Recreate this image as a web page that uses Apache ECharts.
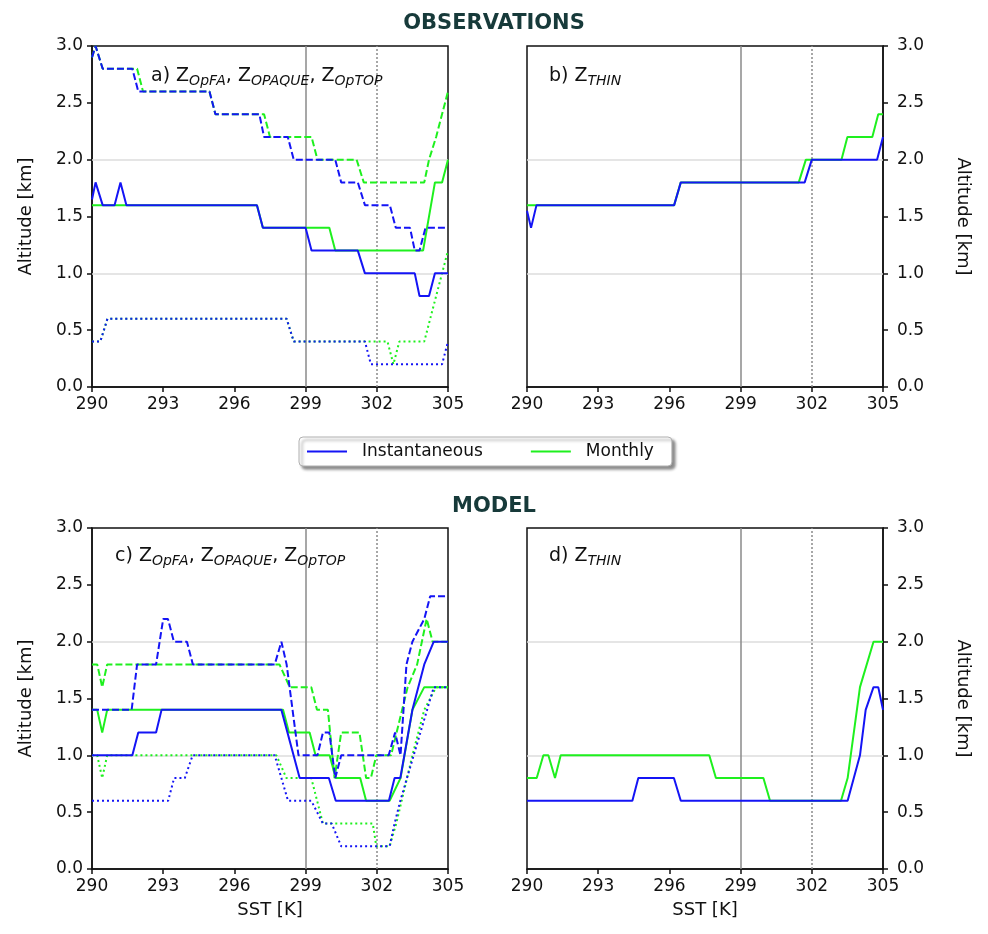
<!DOCTYPE html>
<html>
<head>
<meta charset="utf-8">
<script src="https://cdn.jsdelivr.net/npm/echarts@6/dist/echarts.min.js"></script>
<style>
  html, body { margin: 0; padding: 0; background: #fff; }
  #chart { width: 988px; height: 934px; }
</style>
</head>
<body>
<div id="chart"></div>
<script>
// eixo x (SST) e eixo y (altitude)
const xTicks = [290, 293, 296, 299, 302, 305];
const yTicks = [0, 0.5, 1, 1.5, 2, 2.5, 3];
const guideX = [299, 302];
const guideY = [1, 2];

// a) observações — Z_OpFA / Z_OPAQUE / Z_OpTOP  (pares [SST, km])
const aSolidInst = [[290,1.65],[290.15,1.8],[290.45,1.6],[290.95,1.6],[291.2,1.8],[291.45,1.6],[296.95,1.6],[297.2,1.4],[299.0,1.4],[299.25,1.2],[301.2,1.2],[301.5,1.0],[303.6,1.0],[303.8,0.8],[304.2,0.8],[304.45,1.0],[305,1.0]];
const aSolidMon = [[290,1.6],[296.95,1.6],[297.2,1.4],[300.0,1.4],[300.25,1.2],[303.95,1.2],[304.45,1.8],[304.75,1.8],[305,2.0]];
const aDashInst = [[290,2.9],[290.15,3.0],[290.45,2.8],[291.7,2.8],[291.95,2.6],[294.95,2.6],[295.2,2.4],[297.05,2.4],[297.25,2.2],[298.25,2.2],[298.5,2.0],[300.25,2.0],[300.5,1.8],[301.2,1.8],[301.5,1.6],[302.55,1.6],[302.8,1.4],[303.4,1.4],[303.6,1.2],[303.8,1.2],[304.05,1.4],[305,1.4]];
const aDashMon = [[290,2.9],[290.15,3.0],[290.45,2.8],[291.9,2.8],[292.15,2.6],[294.95,2.6],[295.2,2.4],[297.25,2.4],[297.5,2.2],[299.25,2.2],[299.5,2.0],[301.15,2.0],[301.45,1.8],[304.0,1.8],[304.2,2.0],[304.5,2.2],[305,2.6]];
const aDotInst = [[290,0.4],[290.35,0.4],[290.65,0.6],[298.2,0.6],[298.5,0.4],[301.5,0.4],[301.75,0.2],[304.75,0.2],[305,0.4]];
const aDotMon = [[290,0.4],[290.35,0.4],[290.65,0.6],[298.2,0.6],[298.5,0.4],[302.45,0.4],[302.7,0.2],[302.95,0.4],[304.0,0.4],[304.25,0.6],[304.5,0.8],[305,1.2]];

// b) observações — Z_THIN
const bInst = [[290,1.55],[290.17,1.4],[290.4,1.6],[296.2,1.6],[296.48,1.8],[301.7,1.8],[302.0,2.0],[304.75,2.0],[305,2.2]];
const bMon = [[290,1.6],[296.2,1.6],[296.48,1.8],[301.45,1.8],[301.75,2.0],[303.25,2.0],[303.5,2.2],[304.55,2.2],[304.8,2.4],[305,2.4]];

// c) modelo — Z_OpFA / Z_OPAQUE / Z_OpTOP
const cSolidInst = [[290,1.0],[291.7,1.0],[291.95,1.2],[292.7,1.2],[292.93,1.4],[297.98,1.4],[298.75,0.8],[299.98,0.8],[300.27,0.6],[302.51,0.6],[302.75,0.8],[302.99,0.8],[303.5,1.4],[304.0,1.8],[304.4,2.0],[305,2.0]];
const cSolidMon = [[290,1.4],[290.22,1.4],[290.43,1.2],[290.64,1.4],[298.05,1.4],[298.3,1.2],[299.17,1.2],[299.42,1.0],[300.01,1.0],[300.27,0.8],[301.3,0.8],[301.55,0.6],[302.54,0.6],[303.0,0.8],[303.5,1.4],[304.0,1.6],[305,1.6]];
const cDashInst = [[290,1.4],[291.67,1.4],[291.9,1.8],[292.7,1.8],[293.0,2.2],[293.2,2.2],[293.45,2.0],[294.0,2.0],[294.25,1.8],[297.7,1.8],[297.98,2.0],[298.2,1.8],[298.7,1.0],[299.5,1.0],[299.73,1.2],[300.0,1.2],[300.25,0.8],[300.5,1.0],[302.5,1.0],[302.77,1.2],[303.0,1.0],[303.25,1.8],[303.5,2.0],[304.0,2.2],[304.25,2.4],[305,2.4]];
const cDashMon = [[290,1.8],[290.22,1.8],[290.43,1.6],[290.64,1.8],[297.9,1.8],[298.33,1.6],[299.24,1.6],[299.48,1.4],[299.94,1.4],[300.22,0.8],[300.5,1.2],[301.27,1.2],[301.55,0.8],[301.75,0.8],[301.98,1.0],[302.6,1.0],[303.3,1.6],[303.7,1.8],[304.1,2.2],[304.35,2.0],[305,2.0]];
const cDotInst = [[290,0.6],[293.21,0.6],[293.46,0.8],[293.91,0.8],[294.24,1.0],[297.7,1.0],[298.26,0.6],[299.24,0.6],[299.73,0.4],[300.1,0.4],[300.5,0.2],[302.54,0.2],[302.75,0.4],[302.99,0.6],[304.4,1.6],[305,1.6]];
const cDotMon = [[290,1.0],[290.22,1.0],[290.43,0.8],[290.64,1.0],[297.77,1.0],[298.19,0.8],[299.24,0.8],[299.73,0.4],[301.83,0.4],[301.98,0.2],[302.54,0.2],[302.82,0.4],[303.5,1.0],[304.0,1.4],[304.5,1.6],[305,1.6]];

// d) modelo — Z_THIN
const dInst = [[290,0.6],[294.44,0.6],[294.69,0.8],[296.19,0.8],[296.48,0.6],[303.51,0.6],[304.03,1.0],[304.27,1.4],[304.6,1.6],[304.8,1.6],[305,1.4]];
const dMon = [[290,0.8],[290.41,0.8],[290.69,1.0],[290.9,1.0],[291.18,0.8],[291.42,1.0],[297.68,1.0],[297.96,0.8],[299.96,0.8],[300.24,0.6],[303.23,0.6],[303.51,0.8],[304.03,1.6],[304.6,2.0],[305,2.0]];

const BLUE = '#1414f5';
const GREEN = '#1ef01e';
const FONT = 'DejaVu Sans';
const INST = 'Instantaneous';
const MON = 'Monthly';
const DASH = { dashed: [7, 3], dotted: [2, 3], solid: 'solid' };

const panels = [
    { left: 92, top: 46, side: 'left', xName: '' },
    { left: 527, top: 46, side: 'right', xName: '' },
    { left: 92, top: 528, side: 'left', xName: 'SST [K]' },
    { left: 527, top: 528, side: 'right', xName: 'SST [K]' }
];
const PW = 356, PH = 341;

function line(name, data, color, style, idx) {
    return {
        type: 'line', name, data,
        xAxisIndex: idx, yAxisIndex: idx,
        showSymbol: false, symbol: 'none', silent: true,
        animation: false, z: 3,
        itemStyle: { color },
        lineStyle: { color, width: 2, type: DASH[style] }
    };
}

// linhas guia: grade horizontal em 1 e 2 km, verticais em 299 K e 302 K
function guides(idx) {
    return {
        type: 'line', name: 'guides', data: [], xAxisIndex: idx, yAxisIndex: idx,
        silent: true, animation: false, z: 1,
        markLine: {
            z: 1, symbol: 'none', silent: true, animation: false, label: { show: false },
            data: [
                ...guideY.map(v => ({ yAxis: v, lineStyle: { color: '#dcdcdc', width: 1.5, type: 'solid' } })),
                { xAxis: guideX[0], lineStyle: { color: '#8a8a8a', width: 1.5, type: 'solid' } },
                { xAxis: guideX[1], lineStyle: { color: '#8a8a8a', width: 1.5, type: [2, 2] } }
            ]
        }
    };
}

function panelLabel(letter, subs, left, top) {
    const parts = subs.map(s => `Z{sub|${s}}`).join(', ');
    return {
        text: `${letter}) ${parts}`,
        left, top,
        textStyle: {
            fontFamily: FONT, fontSize: 19, fontWeight: 'normal', color: '#111',
            rich: { sub: { fontFamily: FONT, fontSize: 14, fontStyle: 'italic', color: '#111', padding: [10, 0, 0, 0] } }
        }
    };
}

const chart = echarts.init(document.getElementById('chart'), null, { renderer: 'canvas' });

const series = [
    guides(0),
    line(MON, aSolidMon, GREEN, 'solid', 0),
    line(MON, aDashMon, GREEN, 'dashed', 0),
    line(MON, aDotMon, GREEN, 'dotted', 0),
    line(INST, aSolidInst, BLUE, 'solid', 0),
    line(INST, aDashInst, BLUE, 'dashed', 0),
    line(INST, aDotInst, BLUE, 'dotted', 0),
    guides(1),
    line(MON, bMon, GREEN, 'solid', 1),
    line(INST, bInst, BLUE, 'solid', 1),
    guides(2),
    line(MON, cSolidMon, GREEN, 'solid', 2),
    line(MON, cDashMon, GREEN, 'dashed', 2),
    line(MON, cDotMon, GREEN, 'dotted', 2),
    line(INST, cSolidInst, BLUE, 'solid', 2),
    line(INST, cDashInst, BLUE, 'dashed', 2),
    line(INST, cDotInst, BLUE, 'dotted', 2),
    guides(3),
    line(MON, dMon, GREEN, 'solid', 3),
    line(INST, dInst, BLUE, 'solid', 3)
];

const tickLabel = { fontFamily: FONT, fontSize: 17, color: '#111' };

chart.setOption({
    animation: false,
    backgroundColor: '#fff',
    title: [
        { text: 'OBSERVATIONS', left: 'center', top: 8, textStyle: { fontFamily: FONT, fontSize: 21, fontWeight: 'bold', color: '#173a3a' } },
        { text: 'MODEL', left: 'center', top: 491, textStyle: { fontFamily: FONT, fontSize: 21, fontWeight: 'bold', color: '#173a3a' } },
        panelLabel('a', ['OpFA', 'OPAQUE', 'OpTOP'], 146, 59),
        panelLabel('b', ['THIN'], 544, 59),
        panelLabel('c', ['OpFA', 'OPAQUE', 'OpTOP'], 110, 539),
        panelLabel('d', ['THIN'], 544, 539)
    ],
    legend: {
        data: [INST, MON],
        left: 299, top: 437,
        padding: [6, 18, 6, 8],
        itemGap: 48, itemWidth: 40, itemHeight: 2, icon: 'rect',
        backgroundColor: '#fff', borderColor: '#b0b0b0', borderWidth: 1, borderRadius: 4,
        shadowBlur: 3, shadowColor: 'rgba(0,0,0,0.45)', shadowOffsetX: 3, shadowOffsetY: 3,
        textStyle: { fontFamily: FONT, fontSize: 17, color: '#111', padding: [0, 0, 0, 10] },
        selectedMode: false
    },
    grid: panels.map(p => ({
        left: p.left, top: p.top, width: PW, height: PH,
        show: true, borderColor: '#111', borderWidth: 1.5, backgroundColor: 'transparent'
    })),
    xAxis: panels.map((p, i) => ({
        type: 'value', gridIndex: i, min: xTicks[0], max: xTicks[xTicks.length - 1], interval: 3,
        name: p.xName, nameLocation: 'middle', nameGap: 32,
        nameTextStyle: { fontFamily: FONT, fontSize: 18, color: '#111' },
        axisLine: { lineStyle: { color: '#111', width: 1.5 } },
        axisTick: { length: 5, lineStyle: { color: '#111', width: 1.5 } },
        axisLabel: { ...tickLabel, margin: 9 },
        splitLine: { show: false }
    })),
    yAxis: panels.map((p, i) => ({
        type: 'value', gridIndex: i, position: p.side, min: yTicks[0], max: yTicks[yTicks.length - 1], interval: 0.5,
        name: 'Altitude [km]', nameLocation: 'middle',
        nameGap: p.side === 'left' ? 57 : 71, nameRotate: p.side === 'left' ? 90 : -90,
        nameTextStyle: { fontFamily: FONT, fontSize: 18, color: '#111' },
        axisLine: { lineStyle: { color: '#111', width: 1.5 } },
        axisTick: { length: 5, lineStyle: { color: '#111', width: 1.5 } },
        axisLabel: { ...tickLabel, margin: p.side === 'left' ? 9 : 14, formatter: v => v.toFixed(1) },
        splitLine: { show: false }
    })),
    series
});
</script>
</body>
</html>
